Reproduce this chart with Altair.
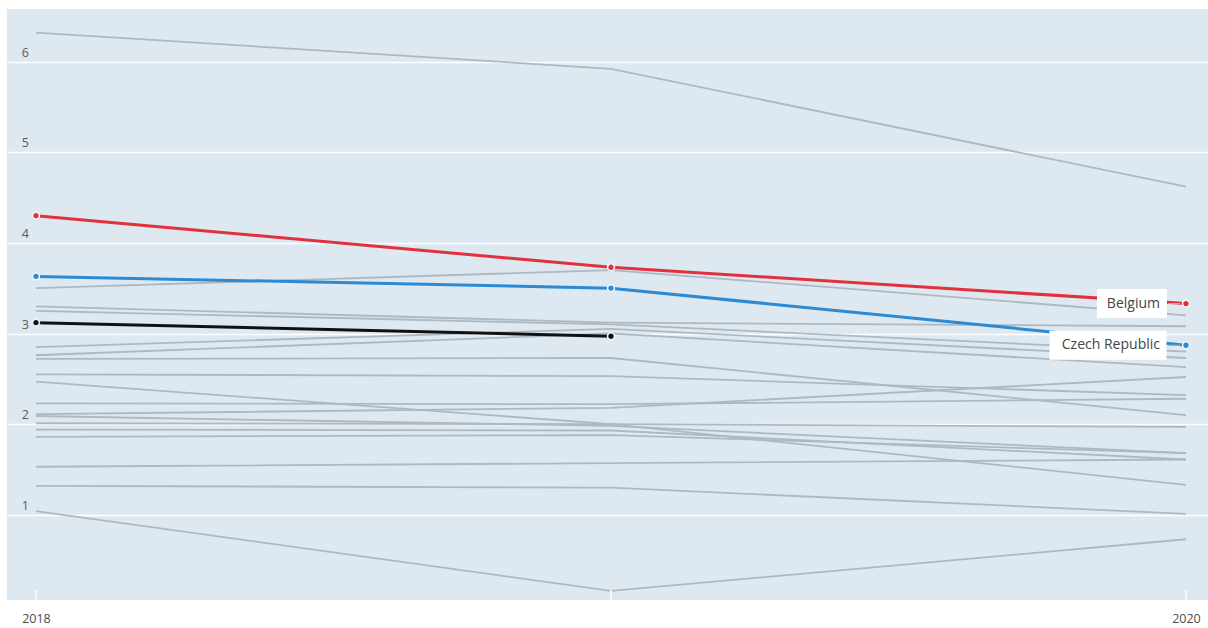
import altair as alt
import pandas as pd

# Years on the x axis
YEARS = [2018, 2019, 2020]

# Highlighted series (value per year)
BELGIUM = [4.30, 3.73, 3.33]
CZECH_REPUBLIC = [3.63, 3.50, 2.87]
DARK_SERIES = [3.12, 2.97, None]

# Background series, one list per country (2018, 2019, 2020)
GREY_SERIES = [
    [6.32, 5.92, 4.62],
    [3.50, 3.70, 3.20],
    [3.30, 3.12, 3.08],
    [3.25, 3.10, 2.80],
    [2.85, 3.05, 2.73],
    [2.76, 3.00, 2.63],
    [2.72, 2.73, 2.10],
    [2.55, 2.53, 2.32],
    [2.47, 2.00, 1.33],
    [2.23, 2.22, 2.28],
    [2.11, 2.18, 2.52],
    [2.09, 1.98, 1.68],
    [2.01, 2.00, 1.97],
    [1.94, 1.93, 1.61],
    [1.86, 1.88, 1.68],
    [1.53, 1.57, 1.61],
    [1.32, 1.30, 1.01],
    [1.04, 0.16, 0.73],
]

Y_TICKS = [1, 2, 3, 4, 5, 6]

BG = "#dde8f0"
GREY = "#aeb8c0"
RED = "#e2313c"
BLUE = "#2b8ad3"
BLACK = "#111111"
FONT = "Open Sans"

rows = []
for i, series in enumerate(GREY_SERIES):
    for yr, v in zip(YEARS, series):
        rows.append({"country": f"g{i}", "year": yr, "value": v})
grey_df = pd.DataFrame(rows)

hi_rows = []
for name, series, color in [
    ("Belgium", BELGIUM, RED),
    ("Czech Republic", CZECH_REPUBLIC, BLUE),
    ("Dark", DARK_SERIES, BLACK),
]:
    for yr, v in zip(YEARS, series):
        if v is not None:
            hi_rows.append({"country": name, "year": yr, "value": v, "color": color})
hi_df = pd.DataFrame(hi_rows)

label_df = pd.DataFrame(
    [
        {"country": "Belgium", "year": 2020, "value": BELGIUM[2]},
        {"country": "Czech Republic", "year": 2020, "value": CZECH_REPUBLIC[2]},
    ]
)

x_scale = alt.Scale(domain=[2017.9496, 2020.0383], nice=False, zero=False)
y_scale = alt.Scale(domain=[0.06, 6.58], nice=False, zero=False)

x_enc = alt.X(
    "year:Q",
    scale=x_scale,
    axis=alt.Axis(
        values=YEARS,
        format="d",
        grid=False,
        domain=False,
        ticks=False,
        labelPadding=12,
        labelFontSize=12.5,
        labelColor="#4d4d4d",
        labelFont=FONT,
        title=None,
    ),
)
y_enc = alt.Y(
    "value:Q",
    scale=y_scale,
    axis=alt.Axis(
        values=Y_TICKS,
        grid=True,
        gridColor="white",
        gridWidth=1.6,
        labels=False,
        domain=False,
        ticks=False,
        title=None,
    ),
)

grey_lines = (
    alt.Chart(grey_df)
    .mark_line(color=GREY, strokeWidth=1.8)
    .encode(x=x_enc, y=y_enc, detail="country:N")
)

# small white tick marks at the bottom of the plot area
tick_df = pd.DataFrame({"year": YEARS})
ticks = (
    alt.Chart(tick_df)
    .mark_rule(color="white", strokeWidth=1.5)
    .encode(
        x=alt.X("year:Q", scale=x_scale),
        y=alt.value(581),
        y2=alt.value(591),
    )
)

# y tick labels drawn inside the plot
ylab_df = pd.DataFrame({"value": Y_TICKS, "label": [str(v) for v in Y_TICKS]})
y_labels = (
    alt.Chart(ylab_df)
    .mark_text(align="right", baseline="alphabetic", dy=-5, fontSize=12.5, color="#5a5a5a", font=FONT)
    .encode(x=alt.value(22), y=alt.Y("value:Q", scale=y_scale), text="label:N")
)

color_scale = alt.Scale(
    domain=["Belgium", "Czech Republic", "Dark"], range=[RED, BLUE, BLACK]
)

hi_lines = (
    alt.Chart(hi_df)
    .mark_line(strokeWidth=3)
    .encode(
        x=alt.X("year:Q", scale=x_scale),
        y=alt.Y("value:Q", scale=y_scale),
        color=alt.Color("country:N", scale=color_scale, legend=None),
        detail="country:N",
    )
)

hi_points = (
    alt.Chart(hi_df)
    .mark_point(filled=True, size=48, opacity=1, stroke="#eef4f8", strokeWidth=1.5)
    .encode(
        x=alt.X("year:Q", scale=x_scale),
        y=alt.Y("value:Q", scale=y_scale),
        fill=alt.Fill("country:N", scale=color_scale, legend=None),
    )
)

label_base = alt.Chart(label_df).encode(
    x=alt.X("year:Q", scale=x_scale), y=alt.Y("value:Q", scale=y_scale)
)

bel_box = label_base.transform_filter(alt.datum.country == "Belgium").mark_rect(
    color="white", width=70, height=29, xOffset=-54
)
cz_box = label_base.transform_filter(alt.datum.country == "Czech Republic").mark_rect(
    color="white", width=117, height=29, xOffset=-78
)

pointers = label_base.mark_rule(color="#a9b4bd", strokeWidth=1, xOffset=-18, x2Offset=-6).encode(
    x2=alt.X2("year:Q")
)

label_text = label_base.mark_text(
    align="right", baseline="middle", dx=-26, fontSize=14, color="#444444", font=FONT
).encode(text="country:N")

chart = (
    alt.layer(
        grey_lines,
        ticks,
        y_labels,
        hi_lines,
        hi_points,
        bel_box,
        cz_box,
        pointers,
        label_text,
    )
    .properties(
        width=1201,
        height=591,
        autosize=alt.AutoSizeParams(type="none"),
        padding={"left": 7, "top": 9, "right": 0, "bottom": 28},
        background="white",
    )
    .configure_view(fill=BG, stroke=None)
)

chart.save("out.html", embed_options={"renderer": "svg", "actions": False})
